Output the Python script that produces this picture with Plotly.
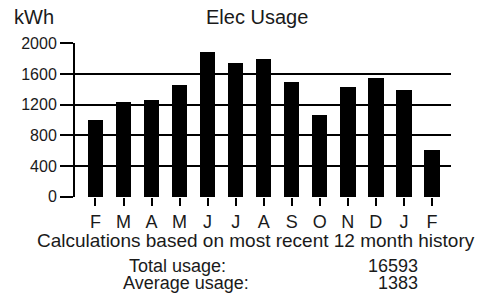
import plotly.graph_objects as go

months = ["F", "M", "A", "M", "J", "J", "A", "S", "O", "N", "D", "J", "F"]
usage = [1005, 1230, 1265, 1460, 1890, 1740, 1790, 1500, 1060, 1430, 1545, 1385, 605]
y_ticks = [0, 400, 800, 1200, 1600, 2000]
title_text = "Elec Usage"
unit_text = "kWh"
note_text = "Calculations based on most recent 12 month history"
total_label, total_value = "Total usage:", "16593"
avg_label, avg_value = "Average usage:", "1383"

FONT = "Liberation Sans, Arial, sans-serif"
TXT = "#1a1a1a"
xs = list(range(len(months)))

fig = go.Figure(go.Bar(x=xs, y=usage, width=0.55, marker=dict(color="black", line=dict(width=0)),
                       hoverinfo="skip"))

fig.update_layout(
    template="none",
    width=486, height=295,
    margin=dict(l=75, r=35, t=43, b=98, pad=0),
    paper_bgcolor="white", plot_bgcolor="white",
    showlegend=False,
    font=dict(family=FONT, size=16, color=TXT),
    bargap=0,
)
fig.update_xaxes(
    automargin=False,
    range=[-0.73, 12.68], tickvals=xs, ticktext=months,
    ticks="outside", ticklen=8, tickwidth=2, tickcolor="black",
    showgrid=False, zeroline=False, showline=False,
    tickfont=dict(size=18, family=FONT, color=TXT),
)
fig.update_yaxes(
    automargin=False,
    range=[-3, 2003], tickvals=y_ticks,
    ticks="outside", ticklen=13, tickwidth=2, tickcolor="black",
    showgrid=True, gridcolor="black", gridwidth=2,
    zeroline=False, showline=True, linecolor="black", linewidth=2,
    tickfont=dict(size=16, family=FONT, color=TXT),
)

def px_x(p):
    return (p - 75) / 376.0

def px_y(p):
    return (197 - p) / 154.0

def note(text, x, y, anchor, size):
    fig.add_annotation(text=text, xref="paper", yref="paper", x=px_x(x), y=px_y(y),
                       xanchor=anchor, yanchor="middle", showarrow=False,
                       font=dict(size=size, family=FONT, color=TXT))

note(unit_text, 12, 17, "left", 20)
note(title_text, 257, 17, "center", 20)
note(note_text, 256, 241, "center", 19)
note(total_label, 127, 266, "left", 18)
note(total_value, 420, 266, "right", 18)
note(avg_label, 121, 283, "left", 18)
note(avg_value, 420, 283, "right", 18)

fig.write_html("out.html", config={"displayModeBar": False, "staticPlot": True},
               post_script="document.body.style.margin='0';document.body.style.overflow='hidden';")
